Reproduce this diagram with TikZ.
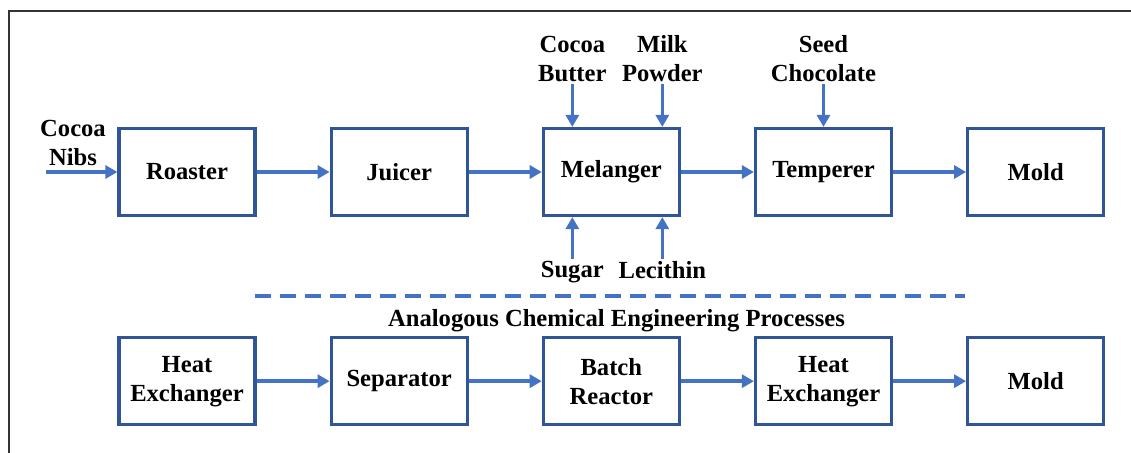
\documentclass[tikz,border=0pt]{standalone}
\usepackage{fontspec}
\setmainfont{Liberation Serif}
\usetikzlibrary{arrows.meta, positioning}
\definecolor{boxblue}{HTML}{2F5597}
\definecolor{flowblue}{HTML}{4472C4}
\definecolor{framegray}{HTML}{333333}

\begin{document}
\begin{tikzpicture}[
    node distance=2.38cm and 1.46cm,
    every node/.style={font=\fontsize{14}{16.5}\selectfont\bfseries},
    unit/.style={draw=boxblue, line width=1.8pt, align=center, minimum width=2.72cm, minimum height=1.74cm},
    lbl/.style={align=center, inner sep=1pt},
    flow/.style={-{Triangle[length=2.4mm, width=2.6mm]}, draw=flowblue, fill=flowblue, line width=1.9pt}
]
\useasboundingbox (0,0) rectangle (22.62,-9.06);
\draw[framegray, line width=1.6pt] (22.62,-0.22) -| (0.18,-9.06);

% chocolate line
\node[unit] (roaster) at (3.74,-3.44) {Roaster};
\node[unit, right=of roaster] (juicer) {Juicer};
\node[unit, right=of juicer] (melanger) {Melanger};
\node[unit, right=of melanger] (temperer) {Temperer};
\node[unit, right=of temperer] (mold) {Mold};

% analogous unit operations
\node[unit, below=of roaster] (hx1) {Heat\\Exchanger};
\node[unit, right=of hx1] (sep) {Separator};
\node[unit, right=of sep] (batch) {Batch\\Reactor};
\node[unit, right=of batch] (hx2) {Heat\\Exchanger};
\node[unit, right=of hx2] (mold2) {Mold};

% feeds
\coordinate[left=1.42cm of roaster.west] (nibsin);
\node[lbl] (nibs) at (1.46,-2.86) {Cocoa\\Nibs};
\coordinate (butterin) at ([xshift=-0.78cm]melanger.north);
\coordinate (milkin) at ([xshift=1.02cm]melanger.north);
\coordinate (sugarin) at ([xshift=-0.78cm]melanger.south);
\coordinate (lecithinin) at ([xshift=1.02cm]melanger.south);
\node[lbl, above=0.86cm of butterin] (butter) {Cocoa\\Butter};
\node[lbl, above=0.86cm of milkin] (milk) {Milk\\Powder};
\node[lbl, above=0.86cm of temperer.north] (seed) {Seed\\Chocolate};
\node[lbl, below=0.84cm of sugarin] (sugar) {Sugar};
\node[lbl, below=0.84cm of lecithinin] (lecithin) {Lecithin};

\draw[flow] (nibsin) -- (roaster);
\draw[flow] (roaster) -- (juicer);
\draw[flow] (juicer) -- (melanger);
\draw[flow] (melanger) -- (temperer);
\draw[flow] (temperer) -- (mold);
\draw[flow] (butter) -- (butterin);
\draw[flow] (milk) -- (milkin);
\draw[flow] (seed) -- (temperer);
\draw[flow] (sugar) -- (sugarin);
\draw[flow] (lecithin) -- (lecithinin);

\draw[flowblue, line width=1.8pt, dash pattern=on 0.32cm off 0.18cm] (5.1,-5.92) -- (19.3,-5.92);
\node (analog) at (12.33,-6.42) {Analogous Chemical Engineering Processes};

\draw[flow] (hx1) -- (sep);
\draw[flow] (sep) -- (batch);
\draw[flow] (batch) -- (hx2);
\draw[flow] (hx2) -- (mold2);
\end{tikzpicture}
\end{document}
